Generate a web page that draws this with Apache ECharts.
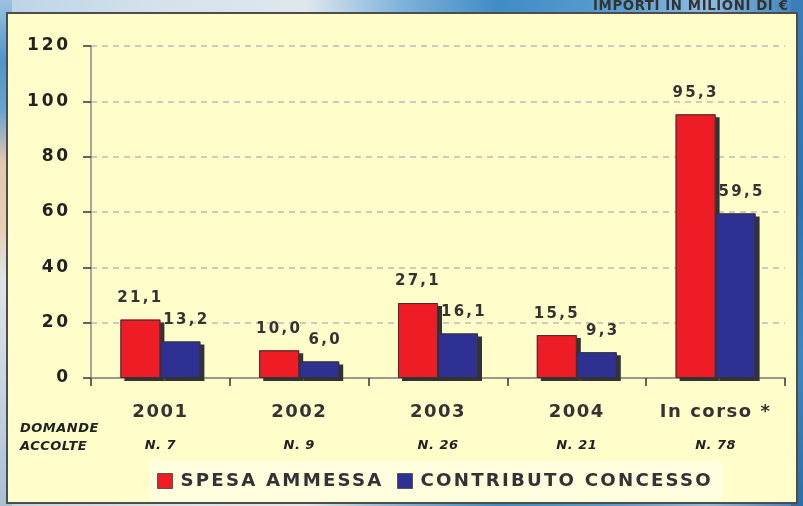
<!DOCTYPE html>
<html><head><meta charset="utf-8">
<script src="https://cdn.jsdelivr.net/npm/echarts@6/dist/echarts.min.js"></script>
<style>
html,body{margin:0;padding:0;}
body{width:803px;height:506px;overflow:hidden;position:relative;
 background:linear-gradient(90deg,#bcd3e6 0%,#d4e2ec 20%,#dfe7ee 38%,#7fb2da 50%,#3f8cc6 62%,#5d9fd0 78%,#8dbce0 88%,#3a7fbb 100%);}
#leftbg{position:absolute;left:0;top:0;width:12px;height:506px;
 background:linear-gradient(180deg,#9cc2e0 0%,#4f95cb 12%,#6aa3cf 22%,#e3c7ae 32%,#e9cdb4 45%,#dfe3e6 55%,#c9d6e0 75%,#a9bfd2 100%);}
#rightbg{position:absolute;right:0;top:0;width:12px;height:506px;
 background:linear-gradient(180deg,#3a7fbb 0%,#2d73b2 40%,#3f86c0 70%,#2e6ea8 100%);}
#chart{position:absolute;left:0;top:0;width:803px;height:506px;}
</style></head><body><div id="leftbg"></div><div id="rightbg"></div><div id="chart"></div>
<script>
const categories = ['2001', '2002', '2003', '2004', 'In corso *'];
const domande = ['N. 7', 'N. 9', 'N. 26', 'N. 21', 'N. 78'];
const spesaAmmessa = [21.1, 10.0, 27.1, 15.5, 95.3];
const contributoConcesso = [13.2, 6.0, 16.1, 9.3, 59.5];
const yTicks = [0, 20, 40, 60, 80, 100, 120];
const seriesNames = ['SPESA AMMESSA', 'CONTRIBUTO CONCESSO'];
const seriesColors = ['#EE1C25', '#2E3192'];
const unitTitle = 'IMPORTI IN MILIONI DI €';
const rowTitle = ['DOMANDE', 'ACCOLTE'];

// letter spacing (tracking) per font size, applied when canvas draws text
const spacingBySize = {'13.3': '0.6px', '13': '0.5px', '15': '2.3px', '17': '2.8px', '18': '1.5px', '18.2': '2.2px'};
const origFill = CanvasRenderingContext2D.prototype.fillText;
CanvasRenderingContext2D.prototype.fillText = function (t, x, y, w) {
  const m = /([\d.]+)px/.exec(this.font);
  const sp = m && spacingBySize[m[1]];
  if ('letterSpacing' in this) this.letterSpacing = sp || '0px';
  return w === undefined ? origFill.call(this, t, x, y) : origFill.call(this, t, x, y, w);
};

const FONT = '"DejaVu Sans", sans-serif';
const BW = 40;
const fmt = v => v.toFixed(1).replace('.', ',');

function makeRender(offset, color, labelDx) {
  return function (params, api) {
    const i = api.value(0), v = api.value(1);
    const p0 = api.coord([i, 0]);
    const p1 = api.coord([i, v]);
    const x = p0[0] + offset;
    const h = p0[1] - p1[1];
    return {type: 'group', children: [
      {type: 'rect', shape: {x: x, y: p1[1], width: BW, height: h},
       style: {fill: color, shadowColor: '#333', shadowOffsetX: 4, shadowOffsetY: 3, shadowBlur: 0}},
      {type: 'rect', shape: {x: x + 0.5, y: p1[1] + 0.5, width: BW - 1, height: h - 1},
       style: {fill: 'none', stroke: '#333', lineWidth: 1}},
      {type: 'text', style: {x: x + BW / 2 + labelDx, y: p1[1] - 14, text: fmt(v), align: 'center', verticalAlign: 'bottom',
        font: 'bold 15px "DejaVu Sans"', fill: '#333'}}
    ]};
  };
}

const chart = echarts.init(document.getElementById('chart'), null, {renderer: 'canvas'});
chart.setOption({
  animation: false,
  backgroundColor: 'transparent',
  graphic: [
    {type: 'rect', z: -10, shape: {x: 7, y: 13, width: 790, height: 490},
     style: {fill: '#FFFDC9', stroke: '#4d4d4d', lineWidth: 2}},
    {type: 'rect', z: -9, shape: {x: 149, y: 461, width: 574, height: 39},
     style: {fill: '#FFFEDF'}},
    {type: 'text', z: 10, x: 593, y: 0.5,
     style: {text: unitTitle, font: 'bold 13.3px "DejaVu Sans"', fill: '#333', align: 'left', verticalAlign: 'top'}},
    {type: 'text', left: 20, top: 420,
     style: {text: rowTitle.join('\n'), font: 'italic bold 13px "DejaVu Sans"', fill: '#222', lineHeight: 18}}
  ],
  grid: {left: 91, right: 18, top: 46, bottom: 128},
  legend: {left: 157, top: 472, padding: 0, itemWidth: 15, itemHeight: 15, itemGap: 42, icon: 'rect',
    data: seriesNames,
    itemStyle: {borderColor: '#555', borderWidth: 1},
    textStyle: {fontFamily: FONT, fontWeight: 'bold', fontSize: 18.2, color: '#333', padding: [0, 0, 0, 3]}},
  xAxis: {type: 'category', data: categories,
    axisLine: {lineStyle: {color: '#9a9a88', width: 2}},
    axisTick: {show: true, length: 8, lineStyle: {color: '#333', width: 1.5}},
    axisLabel: {interval: 0, margin: 22,
      formatter: (v, i) => '{y|' + v + '}\n{n|' + domande[i] + '}',
      rich: {
        y: {fontFamily: FONT, fontWeight: 'bold', fontSize: 18, color: '#333', lineHeight: 24},
        n: {fontFamily: FONT, fontWeight: 'bold', fontStyle: 'italic', fontSize: 13, color: '#222', lineHeight: 44}
      }}},
  yAxis: {type: 'value', min: 0, max: 120, interval: 20,
    axisLine: {show: true, lineStyle: {color: '#888', width: 1.5}},
    axisTick: {show: true, length: 8, lineStyle: {color: '#333', width: 1.5}},
    axisLabel: {margin: 20, fontFamily: FONT, fontWeight: 'bold', fontSize: 17, color: '#222',
      formatter: v => yTicks.includes(v) ? String(v) : ''},
    splitLine: {lineStyle: {color: '#bbb', type: [6, 5], width: 1.5}}},
  series: [
    {name: seriesNames[0], type: 'custom', renderItem: makeRender(-BW, seriesColors[0], 0),
     encode: {x: 0, y: 1}, itemStyle: {color: seriesColors[0]},
     data: spesaAmmessa.map((v, i) => [i, v])},
    {name: seriesNames[1], type: 'custom', renderItem: makeRender(0, seriesColors[1], 6),
     encode: {x: 0, y: 1}, itemStyle: {color: seriesColors[1]},
     data: contributoConcesso.map((v, i) => [i, v])}
  ]
});
</script></body></html>
